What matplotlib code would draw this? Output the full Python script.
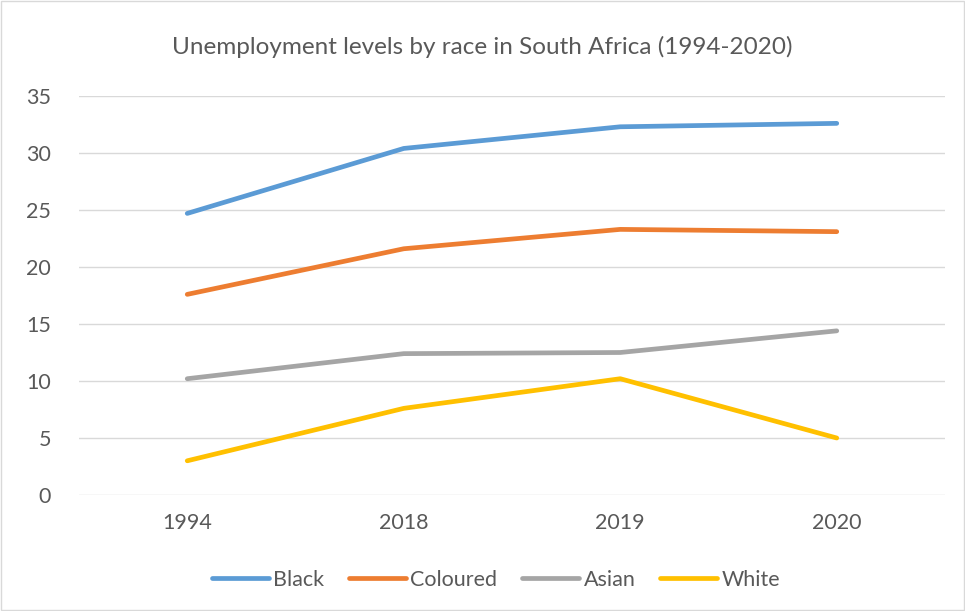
import matplotlib.pyplot as plt

years = ["1994", "2018", "2019", "2020"]
black = [24.7, 30.4, 32.3, 32.6]
coloured = [17.6, 21.6, 23.3, 23.1]
asian = [10.2, 12.4, 12.5, 14.4]
white = [3.0, 7.6, 10.2, 5.0]

series = [("Black", black, "#5B9BD5"),
          ("Coloured", coloured, "#ED7D31"),
          ("Asian", asian, "#A5A5A5"),
          ("White", white, "#FFC000")]

plt.rcParams['font.family'] = ['Lato', 'DejaVu Sans']

fig = plt.figure(figsize=(9.65, 6.11), dpi=100)
ax = fig.add_axes([79 / 965, 1 - 495 / 611, 866 / 965, 399 / 611])

x = range(len(years))
for name, vals, col in series:
    ax.plot(x, vals, color=col, linewidth=3.4, label=name, solid_capstyle='round')

ax.set_xlim(-0.5, 3.5)
ax.set_ylim(0, 35)
ax.set_yticks(range(0, 36, 5))
ax.set_xticks(list(x))
ax.set_xticklabels(years)
ax.grid(axis='y', color='#D9D9D9', linewidth=1)
ax.set_axisbelow(True)
for s in ax.spines.values():
    s.set_visible(False)
ax.tick_params(length=0, labelsize=15.5, colors='#595959')
ax.tick_params(axis='y', pad=20)
ax.tick_params(axis='x', pad=13)

fig.suptitle("Unemployment levels by race in South Africa (1994-2020)",
             y=1 - 47 / 611, fontsize=17.5, color='#595959', va='center')

ax.legend(loc='center', bbox_to_anchor=(0.4815, -0.212), ncol=4, frameon=False,
          fontsize=15.5, labelcolor='#595959', handlelength=2.65,
          columnspacing=1.15, handletextpad=0.2)

fig.patches.append(plt.Rectangle((0.001, 0.001), 0.998, 0.998, transform=fig.transFigure,
                                 fill=False, edgecolor='#D9D9D9', linewidth=1))

fig.savefig("out.png", dpi=100)
